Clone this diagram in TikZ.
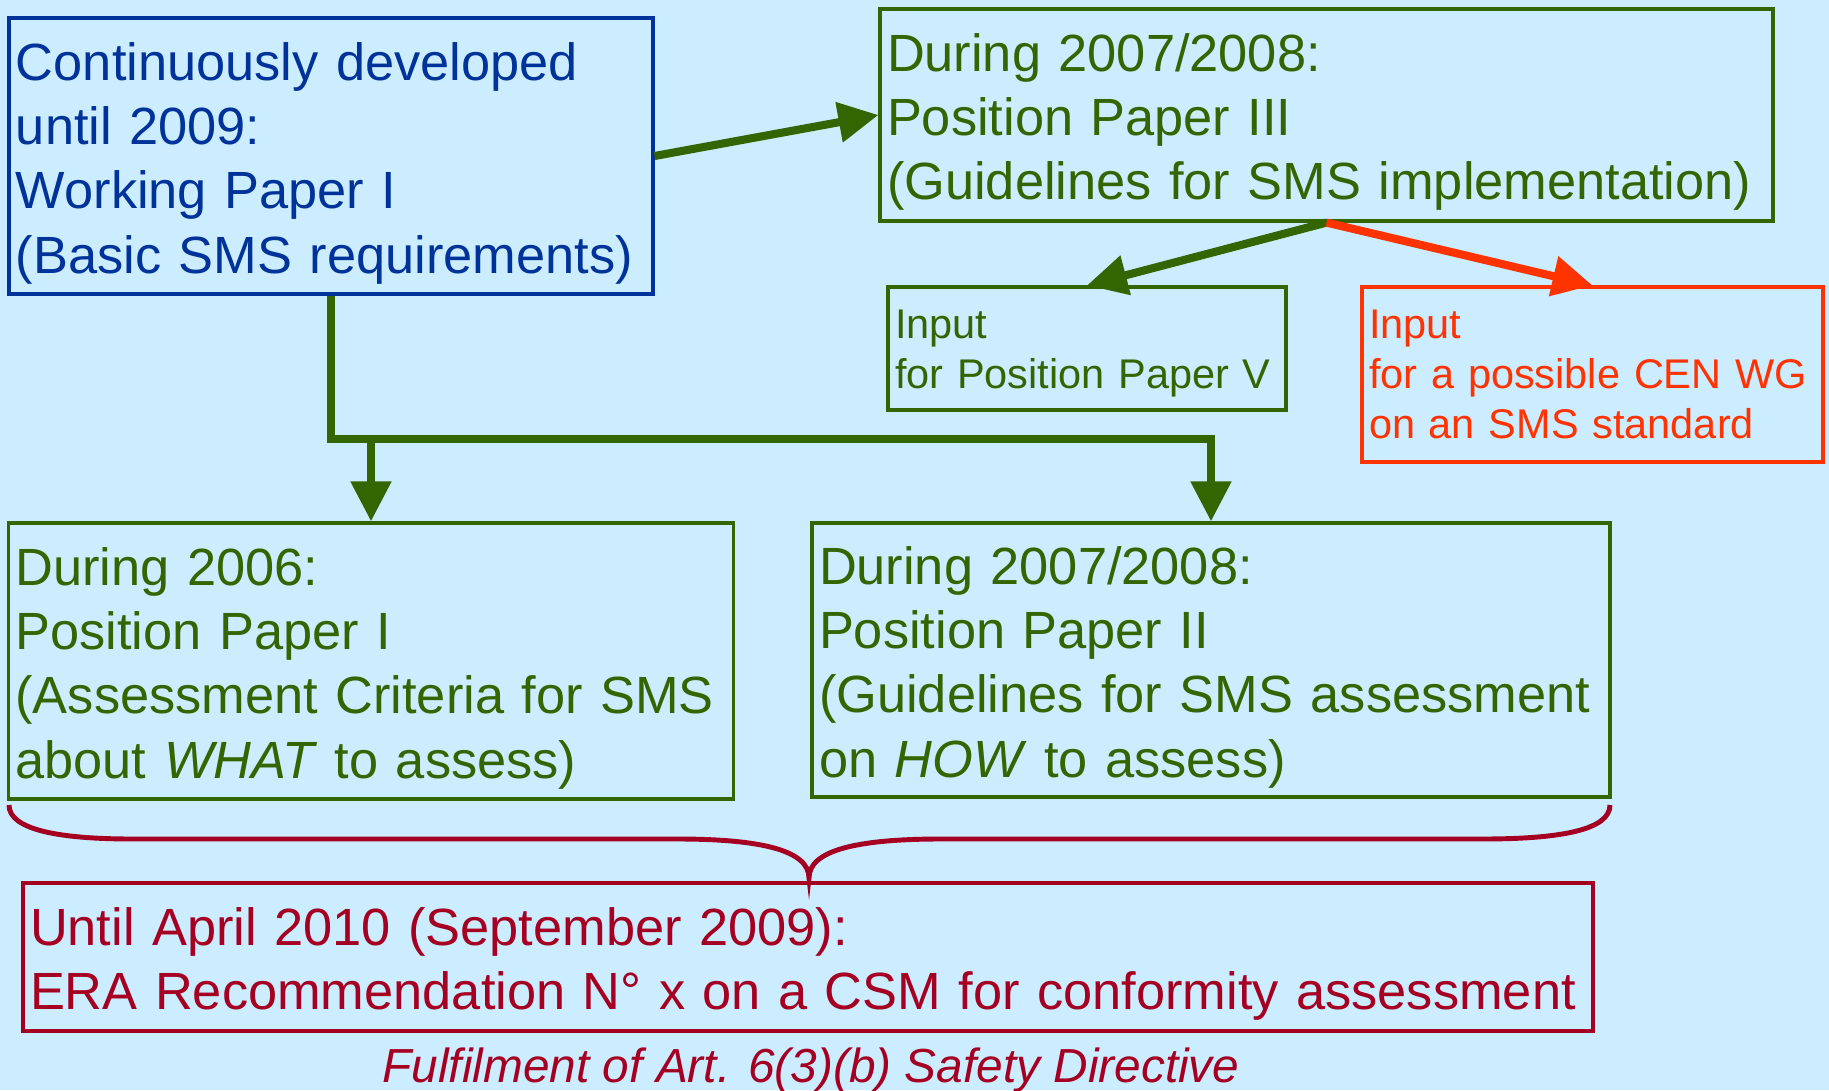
\documentclass[tikz,border=0pt]{standalone}
\usepackage{fontspec}
\setmainfont{Liberation Sans}
\usetikzlibrary{arrows.meta}

\definecolor{bgblue}{HTML}{CCECFF}
\definecolor{wpblue}{HTML}{003399}
\definecolor{ppgreen}{HTML}{336600}
\definecolor{cenred}{HTML}{FF3300}
\definecolor{erared}{HTML}{A50021}

\tikzset{
  box/.style={draw,line width=0.9pt,inner xsep=0.07cm,inner ysep=0pt,align=left},
  big/.style={font=\fontsize{14.9}{18.3}\selectfont,execute at begin node={\rule{0pt}{0.52cm}}},
  small/.style={font=\fontsize{11.8}{14.2}\selectfont},
  arr/.style={line width=2.3pt,-{Triangle[length=0.4cm,width=0.39cm]}},
}

\begin{document}
\begin{tikzpicture}
  \fill[bgblue] (0,0) rectangle (18.29,10.90);
  \useasboundingbox (0,0) rectangle (18.29,10.90);

  \node (WP1) at (3.31,9.34) [box,big,wpblue,minimum width=6.44cm,minimum height=2.76cm,text width=6.30cm]{Continuously developed\\until 2009:\\Working Paper I\\(Basic SMS requirements)};
  \node (PP3) at (13.265,9.75) [box,big,ppgreen,minimum width=8.93cm,minimum height=2.12cm,text width=8.79cm]{During 2007/2008:\\Position Paper III\\(Guidelines for SMS implementation)};

  \node (inV) at (10.87,7.415) [box,small,ppgreen,minimum width=3.98cm,minimum height=1.23cm,text width=3.84cm]{\rule{0pt}{0.38cm}Input\\for Position Paper V};
  \node (inCEN) at (15.925,7.155) [box,small,cenred,minimum width=4.61cm,minimum height=1.75cm,text width=4.47cm]{Input\\for a possible CEN WG\\on an SMS standard};

  \node (PP1) at (3.71,4.29) [box,big,ppgreen,minimum width=7.25cm,minimum height=2.76cm,text width=7.11cm]{During 2006:\\Position Paper I\\(Assessment Criteria for SMS\\about \textit{WHAT} to assess)};
  \node (PP2) at (12.11,4.30) [box,big,ppgreen,minimum width=7.98cm,minimum height=2.74cm,text width=7.84cm]{During 2007/2008:\\Position Paper II\\(Guidelines for SMS assessment\\on \textit{HOW} to assess)};

  \node (ERA) at (8.08,1.33) [box,big,erared,minimum width=15.70cm,minimum height=1.48cm,text width=15.56cm]{Until April 2010 (September 2009):\\ERA Recommendation N° x on a CSM for conformity assessment};
  \node (note) at (8.11,0.08) [anchor=base,erared,font=\fontsize{13.6}{16}\selectfont\itshape]{Fulfilment of Art. 6(3)(b) Safety Directive};

  \coordinate (fork) at (3.31,6.51);

  \draw[arr,ppgreen] (WP1.east) -- (PP3.west);
  \draw[arr,ppgreen] (WP1.south) -- (fork) -| (PP2.north);
  \draw[arr,ppgreen] (PP1.north |- fork) -- (PP1.north);

  \draw[arr,ppgreen] (PP3.south) -- (inV.north);
  \draw[arr,cenred] (PP3.south) -- (inCEN.north);

  % brace
  \draw[erared,line width=1.4pt] (0.09,2.85) .. controls (0.09,2.60) and (0.6,2.51) .. (1.32,2.51) -- (6.77,2.51)
    .. controls (7.6,2.51) and (8.09,2.40) .. (8.09,2.12)
    .. controls (8.09,2.40) and (8.58,2.51) .. (9.41,2.51) -- (14.83,2.51)
    .. controls (15.6,2.51) and (16.10,2.60) .. (16.10,2.85);
\end{tikzpicture}
\end{document}
